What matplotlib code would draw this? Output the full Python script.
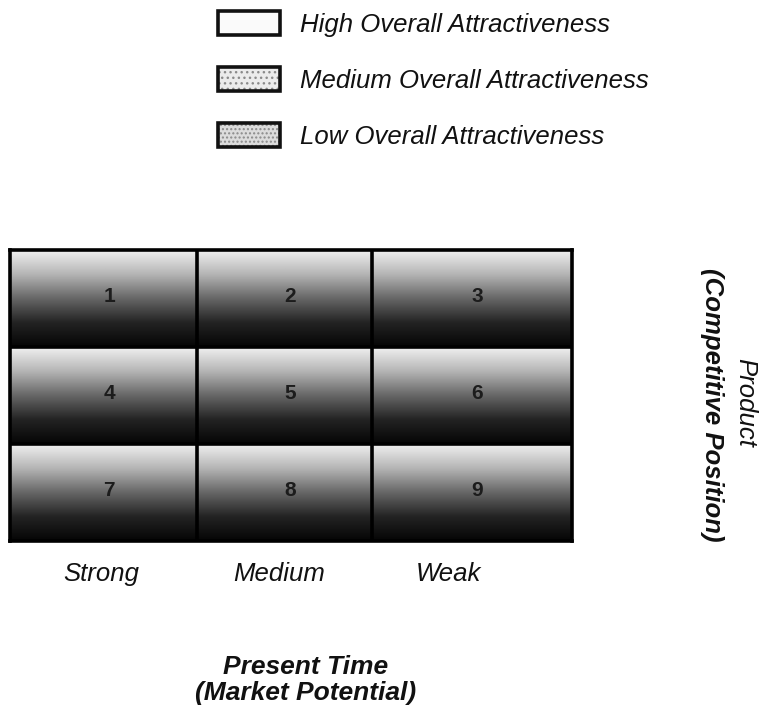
import matplotlib
matplotlib.use("Agg")
import matplotlib.pyplot as plt
import numpy as np
from matplotlib.colors import LinearSegmentedColormap
from matplotlib.patches import Rectangle

# data
legend_labels = ["High Overall Attractiveness", "Medium Overall Attractiveness", "Low Overall Attractiveness"]
legend_fills = ["#fafafa", "#ebebeb", "#dcdcdc"]
legend_hatches = [None, "...", "...."]
column_labels = ["Strong", "Medium", "Weak"]
cell_numbers = [[1, 2, 3], [4, 5, 6], [7, 8, 9]]
x_title = "Present Time\n(Market Potential)"
y_title_top = "Product"
y_title_sub = "(Competitive Position)"

W, H = 771, 711
FONT = ["Liberation Sans", "DejaVu Sans"]


def fx(px):
    return px / W


def fy(py):
    return 1 - py / H


fig = plt.figure(figsize=(W / 100, H / 100), dpi=100)
fig.patch.set_facecolor("white")

# legend at top
leg_y = [23, 79, 135]
for label, fill, hatch, yc in zip(legend_labels, legend_fills, legend_hatches, leg_y):
    xy = (fx(218), fy(yc + 12))
    w, h = fx(62), 24 / H
    fig.patches.append(Rectangle(xy, w, h, transform=fig.transFigure, facecolor=fill,
                                 edgecolor="#8a8a8a", linewidth=0, hatch=hatch))
    fig.patches.append(Rectangle(xy, w, h, transform=fig.transFigure, facecolor="none",
                                 edgecolor="#111111", linewidth=2.6))
    fig.text(fx(300), fy(yc + 2), label, family=FONT, style="italic", fontsize=18.5,
             va="center", ha="left", color="#111111")

# matrix
left, right, top, bottom = 10, 572, 250, 541
ax = fig.add_axes([fx(left), fy(bottom), fx(right - left), (bottom - top) / H])
col_edges = [0, 1.0, 1.93, 3.0]
row_edges = [0, 1, 2, 3]

shade = LinearSegmentedColormap.from_list("shade", ["#f0f0f0", "#b4b4b4", "#666666", "#232323", "#050505"])
grad = np.linspace(0, 1, 200).reshape(-1, 1)

for r in range(3):
    for c in range(3):
        x0, x1 = col_edges[c], col_edges[c + 1]
        y0, y1 = row_edges[r], row_edges[r + 1]
        ax.imshow(grad, cmap=shade, vmin=0, vmax=1, aspect="auto",
                  extent=(x0, x1, y1, y0), origin="upper", interpolation="bilinear")
        ax.text((x0 + x1) / 2 + 0.03, y0 + 0.48, str(cell_numbers[r][c]), family=FONT,
                fontsize=15, fontweight="bold", ha="center", va="center", color="#1c1c1c")

for xe in col_edges[1:-1]:
    ax.axvline(xe, color="black", linewidth=2.6)
for ye in row_edges[1:-1]:
    ax.axhline(ye, color="black", linewidth=2.6)

ax.set_xlim(0, 3)
ax.set_ylim(3, 0)
ax.set_xticks([])
ax.set_yticks([])
for sp in ax.spines.values():
    sp.set_linewidth(2.6)
    sp.set_color("black")

# column labels
label_x = [101, 279, 448]
for lx, lab in zip(label_x, column_labels):
    fig.text(fx(lx), fy(574), lab, family=FONT, style="italic", fontsize=18.5,
             ha="center", va="center", color="#111111")

# axis titles
fig.text(fx(306), fy(680), x_title, family=FONT, style="italic", fontweight="bold",
         fontsize=19, ha="center", va="center", linespacing=1.15, color="#111111")
fig.text(fx(745), fy(402), y_title_top, family=FONT, style="italic", fontsize=18.5,
         rotation=270, ha="center", va="center", color="#111111")
fig.text(fx(712), fy(405), y_title_sub, family=FONT, style="italic", fontweight="bold",
         fontsize=18.5, rotation=270, ha="center", va="center", color="#111111")

fig.savefig("out.png", dpi=100)
plt.close(fig)
